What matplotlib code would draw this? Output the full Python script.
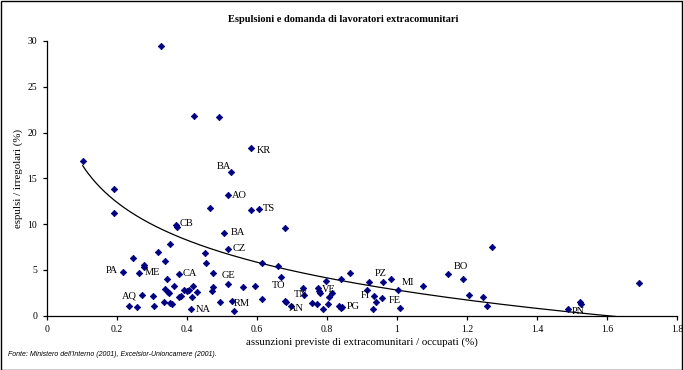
import numpy as np
import matplotlib
matplotlib.use("Agg")
import matplotlib.pyplot as plt
from matplotlib.patches import Rectangle

# ---- data ----
x_vals = [0.102, 0.192, 0.192, 0.326, 0.421, 0.491, 0.583, 0.526, 0.516, 0.467,
          0.582, 0.605, 0.680, 0.368, 0.371, 0.507, 0.516, 0.451, 0.455, 0.614,
          0.661, 0.377, 0.475, 0.669, 0.417, 0.392, 0.399, 0.405, 0.429, 0.415,
          0.475, 0.471, 0.516, 0.561, 0.594, 0.614, 0.495, 0.529, 0.535, 0.412,
          0.680, 0.683, 0.696, 0.732, 0.735, 0.757, 0.772, 0.773, 0.778, 0.781,
          0.797, 0.807, 0.815, 0.804, 0.788, 0.839, 0.867, 0.834, 0.842, 0.839,
          0.921, 0.914, 0.935, 0.941, 0.932, 0.959, 0.984, 1.002, 0.958, 1.009,
          1.075, 1.147, 1.189, 1.207, 1.247, 1.258, 1.271, 1.489, 1.523, 1.525,
          1.692, 0.352, 0.316, 0.247, 0.338, 0.278, 0.278, 0.216, 0.262, 0.344,
          0.362, 0.338, 0.345, 0.348, 0.378, 0.382, 0.272, 0.302, 0.235, 0.258,
          0.305, 0.333, 0.351, 0.356]
y_vals = [16.9, 13.87, 11.25, 29.4, 21.8, 21.7, 18.28, 15.73, 13.15, 11.8,
          11.5, 11.68, 9.61, 9.94, 9.65, 9.0, 7.32, 6.81, 5.72, 5.72,
          5.46, 4.59, 4.66, 4.26, 3.28, 2.81, 2.66, 2.77, 2.59, 2.04,
          3.10, 2.70, 3.43, 3.17, 3.24, 1.82, 1.46, 1.57, 0.48, 0.73,
          1.64, 1.53, 1.09, 2.99, 2.29, 1.35, 1.28, 2.99, 2.70, 2.51,
          3.82, 2.07, 2.51, 1.31, 0.73, 3.98, 4.63, 1.09, 0.98, 0.87,
          3.71, 2.81, 2.18, 1.46, 0.73, 3.68, 3.98, 2.81, 1.90, 0.87,
          3.24, 4.55, 4.04, 2.29, 2.07, 1.06, 7.50, 0.70, 1.53, 1.25,
          3.60, 7.86, 6.96, 6.27, 5.97, 5.57, 5.29, 4.77, 4.70, 3.98,
          3.28, 2.88, 2.62, 2.51, 2.07, 2.15, 2.29, 2.18, 1.06, 0.92,
          1.06, 1.50, 1.42, 1.28]

labels = ['KR', 'BA', 'AO', 'TS', 'CB', 'BA', 'CZ', 'PA', 'ME', 'CA', 'GE', 'TO',
          'AQ', 'NA', 'RM', 'TN', 'AN', 'VE', 'PG', 'FI', 'PZ', 'MI', 'FE', 'BO', 'PN']
label_x = [0.583, 0.526, 0.516, 0.605, 0.368, 0.507, 0.516, 0.216, 0.262, 0.377,
           0.516, 0.669, 0.272, 0.412, 0.529, 0.735, 0.696, 0.797, 0.842, 0.935,
           0.959, 1.002, 0.958, 1.147, 1.489]
label_y = [18.28, 15.73, 13.15, 11.68, 9.94, 9.0, 7.32, 4.77, 4.70, 4.59,
           3.43, 4.26, 2.29, 0.73, 1.57, 2.29, 1.09, 3.82, 0.98, 2.18,
           3.68, 2.81, 1.90, 4.55, 0.70]

# logarithmic trend line y = trend_a + trend_b * ln(x)
trend_a = 2.8
trend_b = -5.95

x_ticks = [0, 0.2, 0.4, 0.6, 0.8, 1, 1.2, 1.4, 1.6, 1.8]
x_tick_labels = ['0', '0.2', '0.4', '0.6', '0.8', '1', '1.2', '1.4', '1.6', '1.8']
y_ticks = [0, 5, 10, 15, 20, 25, 30]

title = "Espulsioni e domanda di lavoratori extracomunitari"
xlabel = "assunzioni previste di extracomunitari / occupati (%)"
ylabel = "espulsi / irregolari (%)"
source = "Fonte: Ministero dell'Interno (2001), Excelsior-Unioncamere (2001)."

# label offsets (pixels) and alignment
label_style = [(6, -2, 'left'), (0, 5, 'right'), (4, 0, 'left'), (4, 0, 'left'),
               (4, 1, 'left'), (6, 1, 'left'), (5, 0, 'left'), (-5, 2, 'right'),
               (6, 0, 'left'), (4, 0, 'left'), (1, 9, 'center'), (-3, -9, 'center'),
               (-5, -1, 'right'), (5, 0, 'left'), (2, -2, 'left'), (-3, 0, 'center'),
               (6, -3, 'center'), (3, -9, 'center'), (5, 0, 'left'), (-4, 0, 'right'),
               (-2, 9, 'center'), (4, 7, 'left'), (6, -2, 'left'), (5, 8, 'left'),
               (4, -2, 'left')]

serif = 'Liberation Serif'
navy = '#000080'

W, H = 683, 370
fig = plt.figure(figsize=(W / 100, H / 100), dpi=100)
fig.patch.set_facecolor('white')
ax = fig.add_axes([47 / W, 1 - 315.7 / H, 630 / W, (315.7 - 41) / H])

ax.plot(x_vals, y_vals, linestyle='none', marker='D', markersize=3.3,
        color=navy, markeredgecolor=navy, markeredgewidth=0.5, zorder=3)

xv = np.array(x_vals)
xt = np.linspace(xv.min(), xv.max(), 400)
ax.plot(xt, trend_a + trend_b * np.log(xt), color='black', linewidth=0.9, zorder=2)

for name, lx, ly, (dx, dy, ha) in zip(labels, label_x, label_y, label_style):
    ax.annotate(name, (lx, ly), xytext=(dx, dy), textcoords='offset pixels',
                ha=ha, va='center', fontsize=7.5, family=serif, zorder=4)

ax.set_xlim(0, 1.8)
ax.set_ylim(0, 30)
ax.set_xticks(x_ticks)
ax.set_xticklabels(x_tick_labels)
ax.set_yticks(y_ticks)
for s in ['top', 'right']:
    ax.spines[s].set_visible(False)
for s in ['left', 'bottom']:
    ax.spines[s].set_linewidth(0.9)
ax.tick_params(direction='out', length=3, width=0.9, labelsize=7, pad=4)
for t in ax.get_xticklabels() + ax.get_yticklabels():
    t.set_family(serif)

ax.set_xlabel(xlabel, fontsize=7.8, family=serif)
ax.xaxis.set_label_coords(0.5, -0.096)
ax.xaxis.label.set_va('center')
ax.set_ylabel(ylabel, fontsize=7.8, family=serif)
ax.yaxis.set_label_coords(-0.046, 0.5)
ax.yaxis.label.set_va('center')

fig.text(343 / W, 1 - 20 / H, title, ha='center', va='center',
         fontsize=7.5, fontweight='bold', family=serif)
fig.text(8 / W, 1 - 355 / H, source, ha='left', va='center',
         fontsize=5, style='italic', family='Liberation Sans')

fig.add_artist(Rectangle((0.5 / W, 0.5 / H), 1 - 1.5 / W, 1 - 1.5 / H,
                         transform=fig.transFigure, fill=False,
                         edgecolor='black', linewidth=1))

fig.savefig('out.png', dpi=100)
